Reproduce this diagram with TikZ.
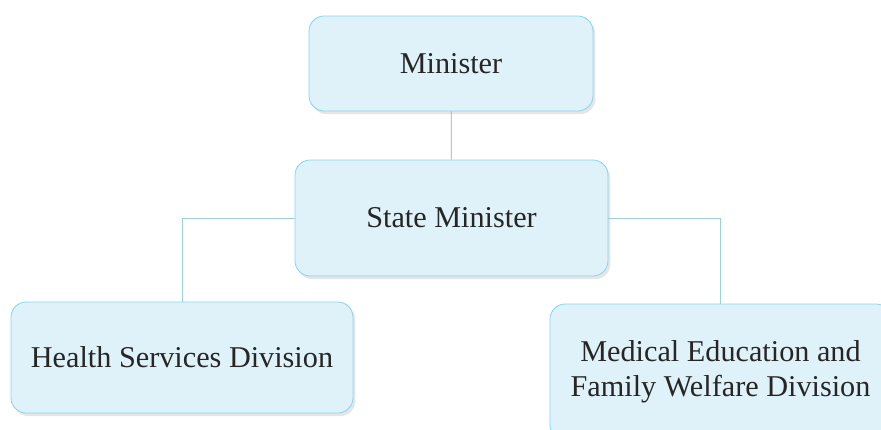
\documentclass[tikz,border=0pt]{standalone}
\usepackage{fontspec}
\setmainfont{Liberation Serif}
\usetikzlibrary{shadows}
\definecolor{boxfill}{HTML}{DFF2FA}
\definecolor{boxline}{HTML}{86D5EF}
\definecolor{edgeline}{HTML}{9CCFE0}
\tikzset{
  unit/.style={draw=boxline, fill=boxfill, rounded corners=0.38cm, line width=0.6pt,
    drop shadow={shadow xshift=0.06cm, shadow yshift=-0.08cm, opacity=0.2},
    align=center, inner sep=0pt, font=\fontsize{21.5}{25}\selectfont, text=black!85},
  link/.style={draw=edgeline, line width=0.5pt}
}
\begin{document}
\begin{tikzpicture}
            \useasboundingbox (0,0) rectangle (22.025,10.725);
            \clip (0,0) rectangle (22.025,10.725);

            % Define nodes
            \node[unit, minimum width=7.1cm, minimum height=2.375cm] (minister) at (11.275,9.1375) {Minister};
            \node[unit, minimum width=7.825cm, minimum height=2.9cm] (state) at (11.2875,5.275) {State Minister};
            \node[unit, minimum width=8.55cm, minimum height=2.775cm] (health) at (4.55,1.7875) {Health Services Division};
            \node[unit, minimum width=8.525cm, minimum height=3.4cm] (medical) at (18.0125,1.425) {Medical Education and\\Family Welfare Division};

            % Draw edges
            \draw[link, draw=gray!70] (minister) -- (state);
            \draw[link] (state.west) -| (health.north);
            \draw[link] (state.east) -| (medical.north);

\end{tikzpicture}
\end{document}
